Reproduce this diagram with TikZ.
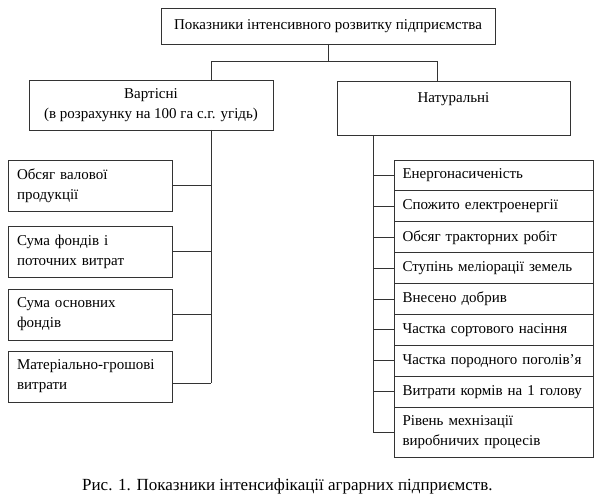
\documentclass[tikz,border=0pt]{standalone}
\usepackage{fontspec}
\setmainfont{Liberation Serif}
\usetikzlibrary{positioning}
\tikzset{
  box/.style={rectangle, draw=black!80, line width=0.9pt, outer sep=0pt,
              inner sep=0pt, font=\fontsize{15}{20}\selectfont},
  head/.style={box, align=center},
  leftbox/.style={box, anchor=north west, minimum width=164pt, minimum height=51pt,
                  text width=146pt, align=left},
  natbox/.style={box, minimum width=199pt, minimum height=30.9pt,
                 text width=182pt, align=left},
  link/.style={draw=black!80, line width=0.9pt},
}

\begin{document}
\begin{tikzpicture}[x=1pt, y=-1pt]
  \useasboundingbox (0,0) rectangle (600,502);
  % top level
  \node[head, anchor=north west, minimum width=334pt, minimum height=36pt] at (161,8) (top)
    {Показники інтенсивного розвитку підприємства};
  \node[head, anchor=north west, minimum width=244pt, minimum height=50pt] at (29,80) (cost)
    {Вартісні\\(в розрахунку на 100 га с.г. угідь)};
  \node[head, anchor=north west, minimum width=233pt, minimum height=54pt] at (337,81) (nat)
    {Натуральні\\\mbox{}};
  \coordinate (busL) at (211,61);
  \coordinate (busR) at (437,61);
  \coordinate (trR) at (373,0);
  \draw[link] (top.south) -- (top.south |- busL);
  \draw[link] (busL |- cost.north) -- (busL) -- (busR) -- (busR |- nat.north);

  % cost indicators
  \node[leftbox] at (8,160) (c1) {Обсяг валової\\продукції};
  \node[leftbox] at (8,226) (c2) {Сума фондів і\\поточних витрат};
  \node[leftbox] at (8,289) (c3) {Сума основних\\фондів};
  \node[leftbox] at (8,351) (c4) {Матеріально-грошові\\витрати};
  \coordinate (c4out) at ([yshift=-7pt]c4.east);
  \draw[link] (busL |- cost.south) -- (busL |- c4out);
  \foreach \c in {c1,c2,c3}
    \draw[link] (\c.east) -- (\c.east -| busL);
  \draw[link] (c4out) -- (c4out -| busL);

  % natural indicators
  \node[natbox, anchor=north west] at (394,160) (n1) {Енергонасиченість};
  \node[natbox, below=0pt of n1] (n2) {Спожито електроенергії};
  \node[natbox, below=0pt of n2] (n3) {Обсяг тракторних робіт};
  \node[natbox, below=0pt of n3] (n4) {Ступінь меліорації земель};
  \node[natbox, below=0pt of n4] (n5) {Внесено добрив};
  \node[natbox, below=0pt of n5] (n6) {Частка сортового насіння};
  \node[natbox, below=0pt of n6] (n7) {Частка породного поголів’я};
  \node[natbox, below=0pt of n7] (n8) {Витрати кормів на 1 голову};
  \node[natbox, below=0pt of n8, minimum height=50pt] (n9) {Рівень мехнізації\\виробничих процесів};
  \draw[link] (trR |- nat.south) -- (trR |- n9.west);
  \foreach \n in {n1,n2,n3,n4,n5,n6,n7,n8,n9}
    \draw[link] (\n.west) -- (\n.west -| trR);

  % caption
  \node[font=\fontsize{17}{20}\selectfont, anchor=west, inner sep=0pt] at (82,486) (cap)
    {Рис. 1. Показники інтенсифікації аграрних підприємств.};
\end{tikzpicture}
\end{document}
